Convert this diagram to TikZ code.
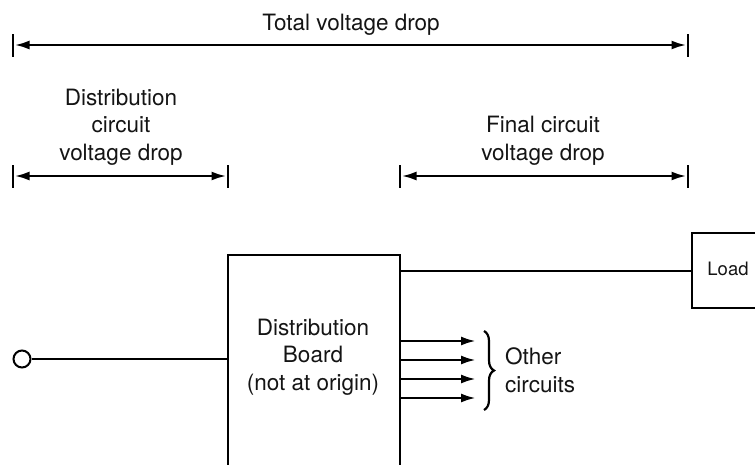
\documentclass[tikz,border=0pt]{standalone}
\usepackage{fontspec}
\setmainfont{TeX Gyre Heros}
\usetikzlibrary{arrows.meta,decorations.pathreplacing}
\begin{document}
\begin{tikzpicture}[x=1pt, y=-1pt,
    dim/.style={line width=2.6pt, {Latex[length=15pt,width=9pt]}-{Latex[length=15pt,width=9pt]}},
    tick/.style={line width=2.6pt},
    wire/.style={line width=2.2pt},
    feed/.style={line width=2.6pt, -{Latex[length=15pt,width=9pt]}},
    lbl/.style={font=\fontsize{22.5}{27.5}\selectfont, align=center, inner sep=0pt, text=black!92},
    box/.style={draw, line width=2.2pt, inner sep=0pt}
]
\useasboundingbox (0,0) rectangle (755,464);
\def\tk{11.5}

% dimension lines
\coordinate (tL) at (13,45);   \coordinate (tR) at (688,45);
\coordinate (dL) at (13,176);  \coordinate (dR) at (228,176);
\coordinate (fL) at (400,176); \coordinate (fR) at (688,176);
\foreach \c in {tL,tR,dL,dR,fL,fR}
  \draw[tick] ([yshift=-\tk]\c) -- ([yshift=\tk]\c);
\draw[dim] ([xshift=1.5]tL) -- ([xshift=-1.5]tR);
\draw[dim] ([xshift=1.5]dL) -- ([xshift=-1.5]dR);
\draw[dim] ([xshift=1.5]fL) -- ([xshift=-1.5]fR);

% labels (base = last line)
\node[lbl, anchor=base] (total) at (351,30) {Total voltage drop};
\node[lbl, anchor=base] (distdrop) at (121,160) {Distribution\\circuit\\voltage drop};
\node[lbl, anchor=base] (finaldrop) at (543,160) {Final circuit\\voltage drop};

% distribution board and load
\node[box, minimum width=172pt, minimum height=214pt] (board) at (314,362) {};
\node[lbl, anchor=base] (boardtxt) at (313,390) {Distribution\\Board\\(not at origin)};
\node[box, minimum width=80pt, minimum height=75pt, anchor=north west] (load) at (691,232) {};
\node[lbl, font=\fontsize{18.5}{22}\selectfont] (loadtxt) at (728,269) {Load};

\node[circle, draw, line width=2pt, minimum size=17pt, inner sep=0pt] (origin) at (22,359) {};
\draw[wire] (origin) -- (origin -| board.west);
\draw[wire] (board.east |- load.west) -- (load.west);

% other circuits
\foreach \y [count=\i] in {341,360,379,398} {
  \coordinate (oc\i) at (476,\y);
  \draw[feed] (oc\i -| board.east) -- (oc\i);
}
\draw[wire, decorate, decoration={brace, amplitude=10pt}] (484,331) -- (484,410);
\node[lbl, align=left, anchor=base west] (other) at (505,392) {Other\\circuits};
\end{tikzpicture}
\end{document}
